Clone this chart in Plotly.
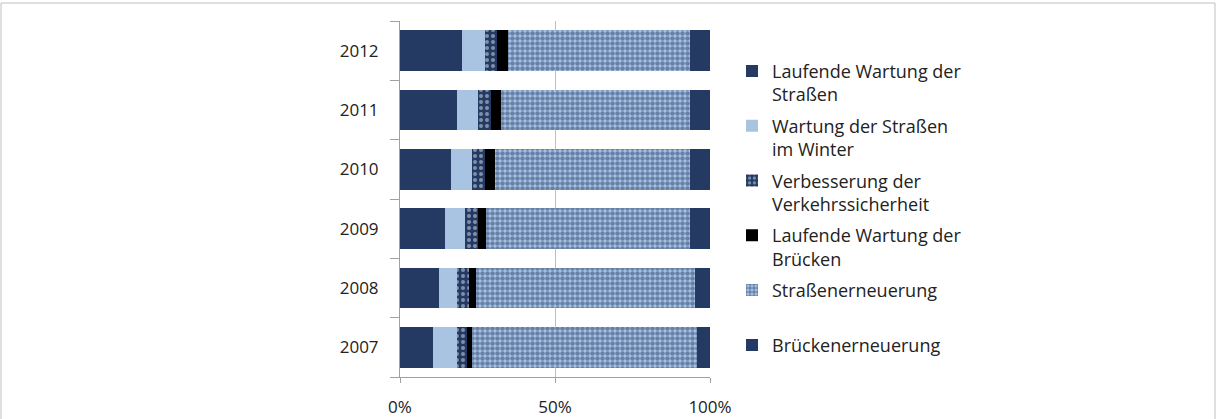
import plotly.graph_objects as go

years = ["2007", "2008", "2009", "2010", "2011", "2012"]
series_names = [
    "Laufende Wartung der<br>Straßen",
    "Wartung der Straßen<br>im Winter",
    "Verbesserung der<br>Verkehrssicherheit",
    "Laufende Wartung der<br>Brücken",
    "Straßenerneuerung<br> ",
    "Brückenerneuerung",
]
lauf_strassen = [10.7, 12.6, 14.5, 16.4, 18.4, 20.0]
winter = [7.6, 5.7, 6.5, 6.9, 6.8, 7.4]
sicherheit = [3.2, 3.8, 4.0, 4.1, 4.0, 3.8]
lauf_bruecken = [1.7, 2.5, 2.9, 3.3, 3.3, 3.7]
strassen_ern = [72.6, 70.6, 65.8, 62.7, 60.9, 58.5]
bruecken_ern = [4.2, 4.8, 6.3, 6.6, 6.6, 6.6]
tick_vals = [0, 50, 100]
tick_text = ["0%", "50%", "100%"]

DARK = "#243a63"
LIGHT = "#a9c3e3"
FONT = "Open Sans"

values = [lauf_strassen, winter, sicherheit, lauf_bruecken, strassen_ern, bruecken_ern]
markers = [
    dict(color=DARK, line=dict(width=0)),
    dict(color=LIGHT, line=dict(width=0)),
    dict(color=DARK, line=dict(width=0),
         pattern=dict(shape=".", fgcolor="#dbe6f4", bgcolor=DARK, size=6, solidity=0.35, fillmode="overlay")),
    dict(color="#000000", line=dict(width=0)),
    dict(color=LIGHT, line=dict(width=0),
         pattern=dict(shape=".", fgcolor="#233d6b", bgcolor=LIGHT, size=5, solidity=0.65, fillmode="overlay")),
    dict(color=DARK, line=dict(width=0)),
]

fig = go.Figure()
for name, vals, mk in zip(series_names, values, markers):
    fig.add_trace(go.Bar(
        y=years, x=vals, name=name, orientation="h", marker=mk,
        legendgroup=name,
    ))

fig.update_layout(
    barmode="stack",
    bargap=0.32,
    width=1217, height=419,
    margin=dict(l=400, r=507, t=21, b=42, autoexpand=False),
    paper_bgcolor="white", plot_bgcolor="white",
    font=dict(family=FONT, size=17, color="#222222"),
    legend=dict(
        x=(732 - 400) / 310, y=0.911, xanchor="left", yanchor="top",
        traceorder="grouped", valign="top", tracegroupgap=5,
        font=dict(family=FONT, size=18, color="#222222"),
        itemwidth=30,
    ),
    xaxis=dict(
        range=[0, 100], tickvals=tick_vals, ticktext=tick_text,
        showgrid=True, gridcolor="#c0c0c0", gridwidth=1,
        showline=True, linecolor="#a0a0a0", linewidth=1,
        ticks="outside", ticklen=5, tickcolor="#a0a0a0",
        ticklabelstandoff=10, zeroline=False, automargin=False,
    ),
    yaxis=dict(
        categoryorder="array", categoryarray=years,
        showline=True, linecolor="#a0a0a0", linewidth=1,
        ticks="outside", ticklen=9, tickcolor="#a0a0a0",
        tickson="boundaries", ticklabelstandoff=17,
        showgrid=False, automargin=False,
    ),
    shapes=[dict(
        type="rect", xref="paper", yref="paper",
        x0=(1 - 400) / 310, x1=(1215 - 400) / 310,
        y0=(377 - 430) / 356, y1=(377 - 3) / 356,
        line=dict(color="#bfbfbf", width=1), fillcolor="rgba(0,0,0,0)", layer="below",
    )],
)

fig.write_html("out.html", post_script="document.body.style.margin='0';",
               config={"displayModeBar": False})
